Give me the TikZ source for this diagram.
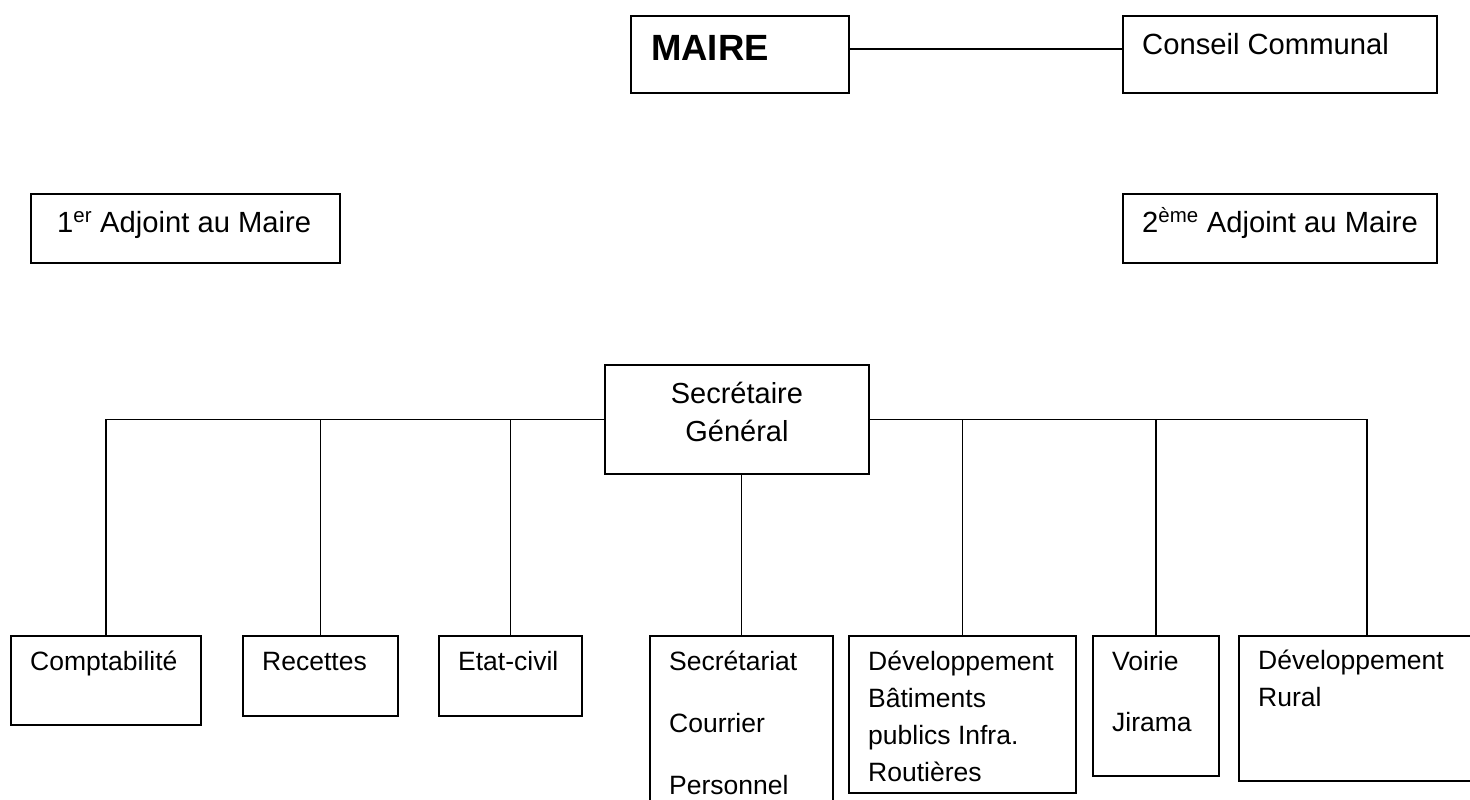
\documentclass[tikz,border=0pt]{standalone}
\usepackage{fontspec}
\setmainfont{Liberation Sans}
\usepackage{tikz}
\usetikzlibrary{positioning}

\tikzset{
  cadre/.style={draw, line width=1.9pt, anchor=north west, inner sep=0pt},
  trait/.style={line width=1.9pt},
  txt/.style={anchor=base west, inner sep=0pt, align=left,
    font=\fontsize{26.5}{37}\selectfont},
  txthaut/.style={anchor=base west, inner sep=0pt,
    font=\fontsize{29.2}{34}\selectfont},
}

\begin{document}
\begin{tikzpicture}[x=1pt,y=-1pt]
    \useasboundingbox (0,0) rectangle (1470,800);
    \clip (0,0) rectangle (1470,800);
    % haut
    \node[cadre, minimum width=218pt, minimum height=77pt] (maire) at (630,15) {};
    \node[cadre, minimum width=314pt, minimum height=77pt] (conseil) at (1122,15) {};
    \node[cadre, minimum width=309pt, minimum height=69pt] (adj1) at (30,193) {};
    \node[cadre, minimum width=314pt, minimum height=69pt] (adj2) at (1122,193) {};
    \node[cadre, minimum width=264pt, minimum height=109pt] (sg) at (604,364) {};
    \node[anchor=base west, inner sep=0pt, font=\bfseries\fontsize{36.5}{40}\selectfont]
        (tmaire) at ([xshift=21pt,yshift=-46pt]maire.north west) {MAIRE};
    \node[txthaut] (tconseil) at ([xshift=20pt,yshift=-40pt]conseil.north west) {Conseil Communal};
    \node[txthaut] (tadj1) at ([xshift=27pt,yshift=-39pt]adj1.north west) {1\textsuperscript{er} Adjoint au Maire};
    \node[txthaut] (tadj2) at ([xshift=20pt,yshift=-39pt]adj2.north west) {2\textsuperscript{ème} Adjoint au Maire};
    \node[anchor=base, inner sep=0pt, align=center, font=\fontsize{29}{38}\selectfont]
        (tsg) at ([yshift=-77pt]sg.north) {Secrétaire\\Général};
    % services
    \node[cadre, minimum width=190pt, minimum height=89pt] (compta) at (10,635) {};
    \node[cadre, minimum width=155pt, minimum height=80pt] (recettes) at (242,635) {};
    \node[cadre, minimum width=143pt, minimum height=80pt] (etat) at (438,635) {};
    \node[cadre, minimum width=183pt, minimum height=200pt] (secret) at (649,635) {};
    \node[cadre, minimum width=227pt, minimum height=157pt] (devbat) at (848,635) {};
    \node[cadre, minimum width=126pt, minimum height=140pt] (voirie) at (1092,635) {};
    \node[cadre, minimum width=256pt, minimum height=145pt] (devrur) at (1238,635) {};
    \node[txt] (tcompta) at ([xshift=20pt,yshift=-35pt]compta.north west) {Comptabilité};
    \node[txt] (trecettes) at ([xshift=20pt,yshift=-35pt]recettes.north west) {Recettes};
    \node[txt] (tetat) at ([xshift=20pt,yshift=-35pt]etat.north west) {Etat-civil};
    \node[txt] (tsecret) at ([xshift=20pt,yshift=-159pt]secret.north west)
        {Secrétariat\\[25pt]Courrier\\[25pt]Personnel};
    \node[txt] (tdevbat) at ([xshift=20pt,yshift=-146pt]devbat.north west)
        {Développement\\Bâtiments\\publics Infra.\\Routières};
    \node[txt] (tvoirie) at ([xshift=20pt,yshift=-96pt]voirie.north west)
        {Voirie\\[24pt]Jirama};
    \node[txt] (tdevrur) at ([xshift=20pt,yshift=-71pt]devrur.north west)
        {Développement\\Rural};
    % liaisons
    \draw[trait] ([yshift=5.5pt]maire.east) -- ([yshift=5.5pt]conseil.west);
    \draw[trait] (sg.west) -| (compta.north);
    \draw[trait] (sg.west) -| (recettes.north);
    \draw[trait] (sg.west) -| (etat.north);
    \draw[trait] (secret.north |- sg.south) -- (secret.north);
    \draw[trait] (sg.east) -| (devbat.north);
    \draw[trait] (sg.east) -| (voirie.north);
    \draw[trait] (sg.east) -| (devrur.north);
\end{tikzpicture}
\end{document}
